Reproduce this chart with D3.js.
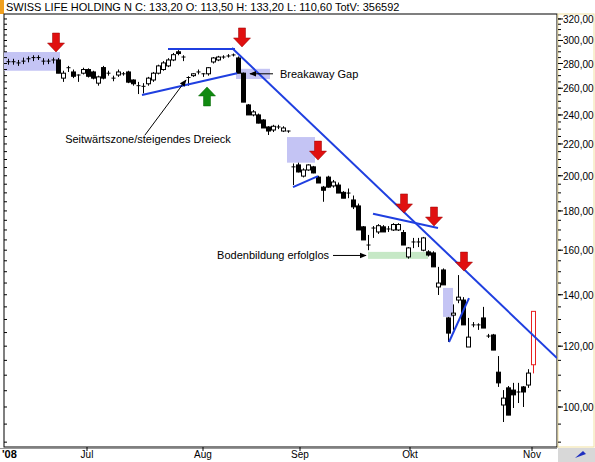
<!DOCTYPE html>
<html><head><meta charset="utf-8">
<script src="https://cdn.jsdelivr.net/npm/d3@7"></script>
<style>body{margin:0;background:#fff}svg{display:block;font-family:"Liberation Sans",Arial,sans-serif}</style>
</head><body><svg id="c" width="595" height="462"></svg>
<script>
// [open, high, low, close]
const candles = [
[281,284,279,281.5],[281.5,284,279,281],[280.5,283,278,280.5],[282,285,279.5,282],[283.5,286,281,284],
[284.5,287,282,285],[285,287,283,284.5],[282,284.5,279,282],[282,284,279.5,281.5],[283,285,280,282.5],
[283,284.7,272,272],[268,274,265,272],[276.5,278,273,276.5],[273,275,268,269.5],[270.5,271,265,270],
[272,276.5,271,275],[275,276,268.5,269.5],[273,274,267,268],[264,270,262,269],[276.6,278,267,268],
[272,274,270,272],[268,270,265.5,268],[270.5,275,269,273],[271.5,273,270,271.5],[273,274,264,264.8],
[266.5,267,262,263.5],[262,265,255.5,262],[261,264,256,261.5],[263.5,269,262,268],[266.5,273,265,272],
[272,279,271,278],[275,282,274,280.5],[278,284.5,277,283],[283,289,282,287.5],[290,291.5,287,288.5],
[285.5,287,282,285.5],[268,269.5,262,268.5],[270,272,269,271.5],[273,275,271,273],[271.5,272,269,271.5],
[271.5,277,270,276.5],[281.3,285.5,280,284.7],[283,286.5,282,285.5],[285.5,287,284,285.5],[286.4,288,285,286.4],
[287,288.5,286,287.3],[284.7,286,272,272],[272,272.5,249.4,249.4],[247.3,248,240,240],[240,243.5,239,242.2],
[240,241,234,234.2],[236.4,237,230.8,230.8],[231.5,232,226,228.7],[229.4,233,228,232],[231.5,233,230,231.5],
[228.7,232,228,230.8],[228.7,229,227.5,228.7],[205.4,207.5,194.5,205.4],[206.6,208,202,202.3],[199.8,204.5,199,203.5],
[203.5,207,203,206.6],[205.4,206,201.5,201.7],[199.2,200,195.7,195.7],[193.3,194,185,191.5],[199.2,200,193,193.3],
[194,197.5,193,196.3],[194.5,196,189.9,189.9],[190.3,191,187,187],[189.9,192.5,187,189.9],[186,188.5,181,182.2],
[182.7,184,170,170],[171.6,172,165,165],[162.5,167.5,160,162.5],[171,172,166,171],[169,173,168,172.2],
[171.6,172.5,169,169],[170.5,172,169,170.5],[170,173.5,169.5,172.8],[170,173.5,169.5,172.8],[168.7,170,162.5,162.5],
[156.8,161.5,156,161.1],[164,166,161,164],[164,166,161.5,164],[160,166.5,159.5,166],[159.2,160,157,157.7],
[158.7,159.5,152.2,152.2],[143.3,152.2,139.9,145],[150.8,151.5,144.2,144.2],[130.6,131,121.5,124.8],[131.7,136,126,132.5],
[137.8,148.5,136.5,139],[137.8,139,127.9,127.9],[119.7,130.6,119.7,123.3],[127.9,129,127,127.9],[127.9,128.5,126,127.9],
[130.6,135,126.7,126.7],[123.7,124.5,123,123.7],[124.1,124.5,118.6,118.6],[111,116.5,106.2,107.5],[100.6,105.2,95.6,102.7],
[105.9,106.5,97.6,97.6],[105.2,107.5,99.7,103.7],[104.6,107.5,101.2,104.6],[106.2,106.5,100,104.6],[106.8,112,105.9,110.7],
[113.5,133.2,110.6,133.2]
];
const monthTicks = [[15.8,"Jul"],[39,"Aug"],[58.4,"Sep"],[80.4,"Okt"],[104.8,"Nov"]];
const priceTicks = [100,120,140,160,180,200,220,240,260,280,300,320];
const trendLines = [ // [i1,p1,i2,p2]
 [32,292.5,45.4,292.5],[26.8,254.8,45.8,272],[44.8,293.3,109.8,115.8],
 [57,193.3,62,199.8],[73,178.5,86,171],[88.2,121.5,92.2,138.6]];
const boxes = [ // [i1,i2,pTop,pBottom,color]
 [-0.8,10.4,289.8,274,"#c4c4f4"],[45.6,52.4,275.6,267.3,"#c4c4f4"],[55.8,61.4,224.6,208,"#c4c4f4"],
 [87,89,142.9,131,"#c4c4f4"],[72,84,159.2,155.9,"#c6e8c6"]];
const downArrows = [[9.6,306.8],[46.8,311.5],[62,221.9],[79.2,189.4],[85.2,182.1],[91.2,159.1]]; // [i, price at top]
const upArrows = [[39.8,261]];

const svg = d3.select("#c");
const x = d3.scaleLinear().domain([0,105]).range([8,533]);
const y = d3.scaleLog().domain([88.7,324.8]).range([447,14]);
const L=4,R=557,T=14,B=447;

svg.append("rect").attr("x",0).attr("y",0).attr("width",4).attr("height",14).attr("fill","#f0a020");
svg.append("text").attr("x",6).attr("y",11).attr("font-size",11).text("SWISS LIFE HOLDING N C: 133,20 O: 113,50 H: 133,20 L: 110,60 TotV: 356592");
svg.append("rect").attr("x",L).attr("y",T).attr("width",R-L).attr("height",B-T).attr("fill","none").attr("stroke","#000");
svg.append("rect").attr("x",R+1).attr("y",T).attr("width",36).attr("height",B-T).attr("fill","#fff").attr("stroke","#f0e0a0");
svg.append("rect").attr("x",R+1).attr("y",B+1).attr("width",37).attr("height",14).attr("fill","#d8d8d8");
svg.append("path").attr("d",`M${R+18},${B+11}l8,-7l3,3z`).attr("fill","#2030c0");
svg.append("line").attr("x1",0).attr("x2",R).attr("y1",B+1.5).attr("y2",B+1.5).attr("stroke","#999");

const g = svg.append("g");
g.append("clipPath").attr("id","cp").append("rect").attr("x",L).attr("y",T).attr("width",R-L).attr("height",B-T);
const cg = g.append("g").attr("clip-path","url(#cp)");

boxes.forEach(b=>cg.append("rect").attr("x",x(b[0])).attr("width",x(b[1])-x(b[0]))
  .attr("y",y(b[2])).attr("height",y(b[3])-y(b[2])).attr("fill",b[4]));

candles.forEach((c,i)=>{
  const [o,h,l,cl]=c, last=i===candles.length-1;
  const col = last?"#e82020":"#000";
  const cx = Math.round(x(i))+0.5;
  cg.append("line").attr("x1",cx).attr("x2",cx).attr("y1",y(h)).attr("y2",y(l)).attr("stroke",col);
  const top=y(Math.max(o,cl)), bot=y(Math.min(o,cl));
  if(bot-top<1.5){cg.append("line").attr("x1",cx-2).attr("x2",cx+2).attr("y1",top).attr("y2",top).attr("stroke",col);}
  else cg.append("rect").attr("x",cx-2).attr("width",4).attr("y",top).attr("height",bot-top)
    .attr("fill",cl>=o?"#fff":"#000").attr("stroke",col);
});

trendLines.forEach(t=>cg.append("line").attr("x1",x(t[0])).attr("y1",y(t[1])).attr("x2",x(t[2])).attr("y2",y(t[3]))
  .attr("stroke","#1f3fe0").attr("stroke-width",2));

downArrows.forEach(a=>{const ax=x(a[0]),ay=y(a[1]);
  cg.append("path").attr("d",`M${ax-3.5},${ay}h7v10h5l-8.5,9l-8.5,-9h5z`).attr("fill","#e01010").attr("stroke","#900").attr("stroke-width",0.5);});
upArrows.forEach(a=>{const ax=x(a[0]),ay=y(a[1]);
  cg.append("path").attr("d",`M${ax},${ay}l8.5,9h-5v10h-7v-10h-5z`).attr("fill","#108a10").attr("stroke","#060").attr("stroke-width",0.5);});

const defs=svg.append("defs");
defs.append("marker").attr("id","ah").attr("viewBox","0 0 10 10").attr("refX",9).attr("refY",5)
 .attr("markerWidth",7).attr("markerHeight",7).attr("orient","auto").append("path").attr("d","M0,1L10,5L0,9z").attr("fill","#000");
function arrow(i1,p1,i2,p2){cg.append("line").attr("x1",x(i1)).attr("y1",y(p1)).attr("x2",x(i2)).attr("y2",y(p2)).attr("stroke","#000").attr("marker-end","url(#ah)");}
arrow(53,271.5,48.4,271.5);
arrow(27.4,226,35.6,266.5);
arrow(65,157.5,71.6,157.5);
const txt=(xx,yy,s,a)=>g.append("text").attr("x",xx).attr("y",yy).attr("font-size",11).attr("text-anchor",a||"start").text(s);
txt(x(54.4),y(271.5)+4,"Breakaway Gap");
txt(x(28),y(220.5),"Seitwärtszone/steigendes Dreieck","middle");
txt(x(64.2),y(157.5)+4,"Bodenbildung erfolglos","end");

const minor=d3.range(90,325,5);
minor.forEach(v=>{svg.append("line").attr("x1",R+1).attr("x2",R+4).attr("y1",y(v)).attr("y2",y(v)).attr("stroke","#000");
 svg.append("line").attr("x1",L).attr("x2",L+3).attr("y1",y(v)).attr("y2",y(v)).attr("stroke","#000");});
priceTicks.forEach(v=>{svg.append("line").attr("x1",R+1).attr("x2",R+6).attr("y1",y(v)).attr("y2",y(v)).attr("stroke","#000");
 svg.append("text").attr("x",R+6).attr("y",y(v)+4).attr("font-size",10).text(v.toFixed(2).replace(".",","));});
svg.append("text").attr("x",2).attr("y",458).attr("font-size",11).attr("font-weight","bold").text("'08");
monthTicks.forEach(m=>{svg.append("line").attr("x1",x(m[0])).attr("x2",x(m[0])).attr("y1",B).attr("y2",B+4).attr("stroke","#000");
 svg.append("text").attr("x",x(m[0])).attr("y",458).attr("font-size",10).attr("text-anchor","middle").text(m[1]);});
</script></body></html>
